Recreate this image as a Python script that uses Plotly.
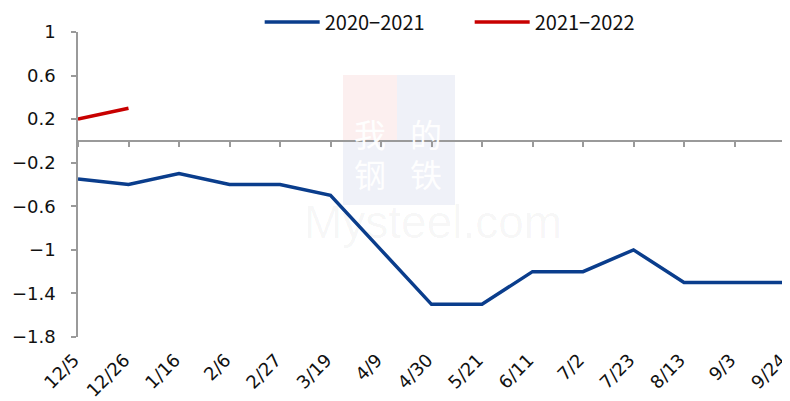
import plotly.graph_objects as go

categories = ["12/5", "12/26", "1/16", "2/6", "2/27", "3/19", "4/9", "4/30",
              "5/21", "6/11", "7/2", "7/23", "8/13", "9/3", "9/24"]
series_2020_2021 = [-0.35, -0.4, -0.3, -0.4, -0.4, -0.5, -1.0, -1.5,
                    -1.5, -1.2, -1.2, -1.0, -1.3, -1.3, -1.3]
series_2021_2022 = [0.2, 0.3]
y_ticks = [1, 0.6, 0.2, -0.2, -0.6, -1, -1.4, -1.8]
y_ticktext = ["1", "0.6", "0.2", "\u22120.2", "\u22120.6", "\u22121", "\u22121.4", "\u22121.8"]

FONT = "Noto Sans CJK SC"
TICKFONT = "DejaVu Sans"
BLUE = "#0a3d8c"
RED = "#c80000"
AXIS = "#9a9a9a"

fig = go.Figure()
fig.add_trace(go.Scatter(x=categories, y=series_2020_2021, mode="lines",
                         name="2020\u22122021", line=dict(color=BLUE, width=3.5)))
fig.add_trace(go.Scatter(x=categories[:len(series_2021_2022)], y=series_2021_2022,
                         mode="lines", name="2021\u22122022",
                         line=dict(color=RED, width=3.5)))
# helper invisible trace to activate the zero-crossing axis
fig.add_trace(go.Scatter(x=categories, y=series_2020_2021, xaxis="x2", mode="lines",
                         line=dict(width=0), opacity=0, showlegend=False,
                         hoverinfo="skip"))

ymin, ymax = -1.8, 1.0
zero_pos = (0 - ymin) / (ymax - ymin)

# page body has an 8px margin: figure is sized so the plot area lands where the reference has it
fig.update_layout(
    width=782, height=393,
    margin=dict(l=70, r=5, t=24, b=64, autoexpand=False),
    paper_bgcolor="white", plot_bgcolor="white",
    font=dict(family=FONT, size=16, color="#111111"),
    showlegend=True,
    legend=dict(orientation="h", x=0.554, xanchor="center", y=1.033, yanchor="middle",
                font=dict(size=20, family=FONT), itemwidth=55,
                entrywidth=140, bgcolor="rgba(0,0,0,0)"),
    xaxis=dict(type="category", categoryorder="array", categoryarray=categories,
               range=[0, len(categories) - 1], showline=False, showgrid=False,
               zeroline=False, ticks="", tickangle=-45, automargin=False,
               ticklabelstandoff=8, ticklabelshift=-4,
               tickfont=dict(size=18, family=TICKFONT)),
    xaxis2=dict(type="category", categoryorder="array", categoryarray=categories,
                range=[0, len(categories) - 1], overlaying="x", anchor="free",
                position=zero_pos, showline=True, linecolor=AXIS, linewidth=1.5,
                ticks="outside", ticklen=5, tickcolor=AXIS, tickwidth=1.5,
                showticklabels=False, showgrid=False, zeroline=False,
                automargin=False),
    yaxis=dict(range=[ymin, ymax], tickvals=y_ticks, ticktext=y_ticktext,
               showline=True, linecolor=AXIS, linewidth=1.5, ticks="outside",
               ticklen=5, tickcolor=AXIS, tickwidth=1.5, showgrid=False,
               zeroline=False, tickfont=dict(size=18, family=TICKFONT),
               ticklabelstandoff=12, automargin=False),
)

# watermark
def px_x(p):
    return (p - 78) / 707

def px_y(p):
    return (337 - p) / 305

boxes = [
    (343, 397, 75, 140, "#fcefef", "我"),
    (397, 455, 75, 140, "#eff1f8", "的"),
    (343, 397, 140, 205, "#eff1f8", "钢"),
    (397, 455, 140, 205, "#eff1f8", "铁"),
]
for x0, x1, y0, y1, col, ch in boxes:
    fig.add_shape(type="rect", xref="paper", yref="paper",
                  x0=px_x(x0), x1=px_x(x1), y0=px_y(y1), y1=px_y(y0),
                  fillcolor=col, line=dict(width=0), layer="below")
    fig.add_annotation(xref="paper", yref="paper", x=px_x((x0 + x1) / 2),
                       y=px_y((y0 + y1) / 2), text=ch, showarrow=False,
                       font=dict(family=FONT, size=32, color="rgba(255,255,255,0.95)"))
fig.add_annotation(xref="paper", yref="paper", x=px_x(433), y=px_y(222),
                   text="Mysteel.com", showarrow=False,
                   font=dict(family="Liberation Sans", size=46,
                             color="rgba(0,0,0,0.04)"))

fig.write_html("out.html")
